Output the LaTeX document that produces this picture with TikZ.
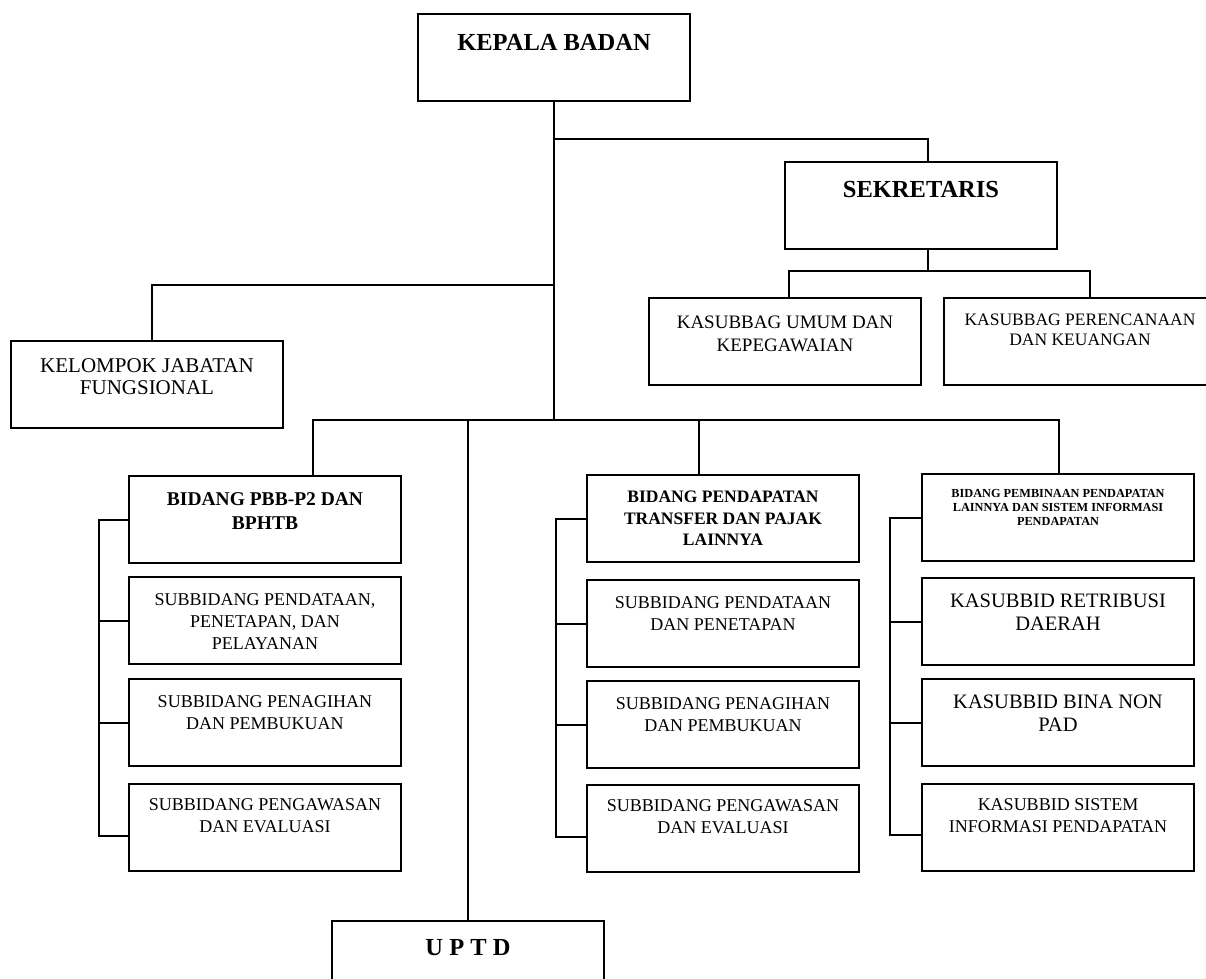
\documentclass[tikz,border=0pt]{standalone}
\usepackage{fontspec}
\setmainfont{Liberation Serif}

% box text: top padding, font size, line skip, text
\newcommand{\unittext}[4]{\parbox[c][87pt][t]{272pt}{\centering\fontsize{#2}{#3}\selectfont\vspace*{#1}#4\par}}
\tikzset{unit/.style={draw, inner sep=0pt, anchor=north west}}

\begin{document}
\begin{tikzpicture}[x=1pt, y=-1pt, line width=2pt]
\useasboundingbox (0,0) rectangle (1206,978);
\clip (0,0) rectangle (1206,978);

% pimpinan dan sekretariat
\node[unit] (kb) at (417,13) {\unittext{20pt}{24.5}{29}{\bfseries KEPALA BADAN}};
\node[unit] (sek) at (784,161) {\unittext{19pt}{24.5}{29}{\bfseries SEKRETARIS}};
\node[unit] (umum) at (648,297) {\unittext{18pt}{19}{23}{KASUBBAG UMUM DAN\\KEPEGAWAIAN}};
\node[unit] (perenc) at (943,297) {\unittext{16pt}{17.5}{20}{KASUBBAG PERENCANAAN\\DAN KEUANGAN}};
\node[unit] (kjf) at (10,340) {\unittext{18pt}{21}{22}{KELOMPOK JABATAN\\FUNGSIONAL}};

% bidang PBB-P2
\node[unit] (b1) at (128,475) {\unittext{17pt}{19.5}{24}{\bfseries BIDANG PBB-P2 DAN\\BPHTB}};
\node[unit] (s11) at (128,576) {\unittext{17pt}{18}{22}{SUBBIDANG PENDATAAN,\\PENETAPAN, DAN\\PELAYANAN}};
\node[unit] (s12) at (128,678) {\unittext{17pt}{18}{22}{SUBBIDANG PENAGIHAN\\DAN PEMBUKUAN}};
\node[unit] (s13) at (128,783) {\unittext{15pt}{18}{22}{SUBBIDANG PENGAWASAN\\DAN EVALUASI}};

% bidang pendapatan transfer
\node[unit] (b2) at (586,474) {\unittext{16pt}{17.5}{21.5}{\bfseries BIDANG PENDAPATAN\\TRANSFER DAN PAJAK\\LAINNYA}};
\node[unit] (s21) at (586,579) {\unittext{17pt}{18}{22}{SUBBIDANG PENDATAAN\\DAN PENETAPAN}};
\node[unit] (s22) at (586,680) {\unittext{17pt}{18}{22}{SUBBIDANG PENAGIHAN\\DAN PEMBUKUAN}};
\node[unit] (s23) at (586,784) {\unittext{15pt}{18}{22}{SUBBIDANG PENGAWASAN\\DAN EVALUASI}};

% bidang pembinaan
\node[unit] (b3) at (921,473) {\unittext{15pt}{12.3}{14}{\bfseries BIDANG PEMBINAAN PENDAPATAN\\LAINNYA DAN SISTEM INFORMASI\\PENDAPATAN}};
\node[unit] (s31) at (921,577) {\unittext{16pt}{20.5}{23}{KASUBBID RETRIBUSI\\DAERAH}};
\node[unit] (s32) at (921,678) {\unittext{16pt}{20.5}{23}{KASUBBID BINA NON\\PAD}};
\node[unit] (s33) at (921,783) {\unittext{15pt}{18}{22}{KASUBBID SISTEM\\INFORMASI PENDAPATAN}};

\node[unit] (uptd) at (331,920) {\unittext{18pt}{24.5}{29}{\bfseries U P T D}};

% garis komando
\coordinate (j1) at (kb.south |- 0,139);
\coordinate (j2) at (kb.south |- 0,285);
\coordinate (j3) at (kb.south |- 0,420);
\coordinate (js) at ([xshift=7pt]sek.south |- 0,271);
\draw (kb.south) -- (j3);
\draw (j1) -| ([xshift=7pt]sek.north);
\draw (j2) -| ([xshift=5pt]kjf.north);
\draw ([xshift=7pt]sek.south) -- (js);
\draw ([xshift=4pt]umum.north) |- (js) -| ([xshift=10pt]perenc.north);
\draw ([xshift=48pt]b1.north) |- (j3) -| ([xshift=1pt]b3.north);
\draw ([xshift=-24pt]b2.north) -- ([xshift=-24pt]b2.north |- j3);
\draw (uptd.north) -- (uptd.north |- j3);

% garis subbidang
\draw (b1.west) -- ++(-29,0) |- ([yshift=-8pt]s13.west);
\draw (s11.west) -- ++(-29,0);
\draw (s12.west) -- ++(-29,0);
\draw (b2.west) -- ++(-30,0) |- ([yshift=-8pt]s23.west);
\draw (s21.west) -- ++(-30,0);
\draw (s22.west) -- ++(-30,0);
\draw (b3.west) -- ++(-31,0) |- ([yshift=-7pt]s33.west);
\draw (s31.west) -- ++(-31,0);
\draw (s32.west) -- ++(-31,0);
\end{tikzpicture}
\end{document}
